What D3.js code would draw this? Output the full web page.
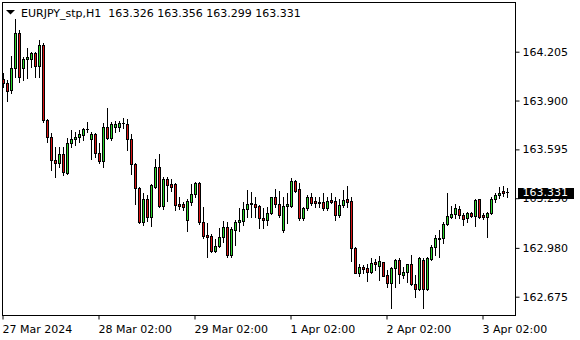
<!DOCTYPE html>
<html>
<head>
<meta charset="utf-8">
<script src="https://cdn.jsdelivr.net/npm/d3@7"></script>
<style>
  html, body { margin: 0; padding: 0; background: #fff; }
  text { font-family: "DejaVu Sans", sans-serif; font-size: 11px; fill: #000; }
</style>
</head>
<body>
<div id="display"></div>
<script>
let w = 580;
let h = 340;

// EURJPY_stp H1, 127 bars from 27 Mar 2024 02:00
const opens = [164.033,164.008,163.966,164.101,164.324,164.101,164.158,164.158,164.195,164.118,
  164.245,163.779,163.674,163.529,163.512,163.566,163.449,163.637,163.658,163.671,
  163.685,163.720,163.658,163.689,163.574,163.524,163.737,163.664,163.737,163.733,
  163.757,163.754,163.658,163.502,163.352,163.140,163.283,163.175,163.362,163.483,
  163.243,163.408,163.379,163.377,163.254,163.252,163.152,163.268,163.315,163.383,
  163.143,163.060,163.054,162.962,162.994,163.046,163.110,162.936,163.092,163.140,
  163.148,163.221,163.262,163.254,163.241,163.166,163.154,163.196,163.296,163.254,
  163.092,163.243,163.243,163.398,163.346,163.165,163.227,163.296,163.273,163.268,
  163.266,163.227,163.277,163.271,163.185,163.248,163.283,163.273,162.977,162.825,
  162.862,162.852,162.827,162.892,162.869,162.890,162.809,162.759,162.852,162.904,
  162.812,162.829,162.877,162.754,162.721,162.904,162.721,162.909,162.984,163.037,
  163.040,163.129,163.175,163.190,163.221,163.185,163.165,163.200,163.181,163.283,
  163.185,163.171,163.196,163.285,163.308,163.333,163.326];
const highs = [164.070,164.028,164.178,164.407,164.341,164.174,164.226,164.205,164.205,164.278,
  164.261,163.785,163.697,163.612,163.612,163.612,163.664,163.716,163.706,163.716,
  163.727,163.768,163.706,163.696,163.633,163.758,163.852,163.768,163.774,163.772,
  163.791,163.783,163.691,163.512,163.362,163.321,163.310,163.379,163.533,163.564,
  163.421,163.421,163.408,163.383,163.296,163.268,163.283,163.379,163.393,163.393,
  163.233,163.133,163.065,163.034,163.102,163.150,163.143,163.112,163.154,163.227,
  163.268,163.341,163.331,163.300,163.248,163.227,163.237,163.300,163.346,163.337,
  163.300,163.321,163.414,163.404,163.383,163.237,163.310,163.321,163.300,163.296,
  163.321,163.296,163.321,163.300,163.283,163.341,163.366,163.300,162.987,162.879,
  162.873,162.877,162.915,162.909,162.929,162.894,162.842,162.862,162.909,162.915,
  162.859,162.880,162.936,162.811,162.921,162.915,162.921,162.998,163.060,163.092,
  163.143,163.321,163.241,163.254,163.241,163.200,163.206,163.206,163.283,163.287,
  163.200,163.206,163.300,163.321,163.362,163.366,163.356];
const lows = [163.983,163.899,163.949,164.049,164.018,164.028,164.039,164.111,164.049,164.049,
  163.766,163.643,163.466,163.424,163.487,163.435,163.441,163.612,163.622,163.643,
  163.654,163.706,163.533,163.549,163.508,163.483,163.658,163.654,163.706,163.712,
  163.729,163.591,163.441,163.254,163.133,163.123,163.150,163.118,163.352,163.233,
  163.223,163.275,163.337,163.217,163.221,163.217,163.087,163.248,163.300,163.129,
  163.040,162.921,162.956,162.956,162.987,163.019,162.925,162.925,162.998,163.087,
  163.123,163.173,163.175,163.175,163.102,163.102,163.123,163.192,163.237,163.175,
  163.081,163.133,163.237,163.331,163.154,163.154,163.217,163.248,163.237,163.237,
  163.217,163.217,163.258,163.154,163.171,163.237,163.237,162.900,162.821,162.804,
  162.821,162.775,162.821,162.842,162.779,162.804,162.734,162.603,162.734,162.759,
  162.790,162.769,162.748,162.675,162.717,162.603,162.717,162.904,162.936,162.921,
  163.009,163.123,163.165,163.165,163.165,163.123,163.143,163.175,163.117,163.165,
  163.158,163.050,163.190,163.268,163.290,163.304,163.299];
const closes = [164.008,163.962,164.101,164.320,164.049,164.158,164.170,164.195,164.118,164.245,
  163.779,163.674,163.529,163.508,163.566,163.456,163.637,163.658,163.674,163.689,
  163.720,163.721,163.689,163.571,163.524,163.737,163.664,163.754,163.752,163.758,
  163.758,163.658,163.502,163.352,163.140,163.283,163.175,163.371,163.483,163.243,
  163.408,163.371,163.362,163.246,163.241,163.237,163.273,163.315,163.383,163.143,
  163.056,163.050,162.962,162.994,163.050,163.110,162.936,163.096,163.140,163.154,
  163.221,163.252,163.252,163.237,163.165,163.154,163.196,163.296,163.252,163.185,
  163.241,163.254,163.398,163.337,163.165,163.227,163.296,163.262,163.258,163.258,
  163.227,163.275,163.265,163.185,163.248,163.279,163.268,162.977,162.825,162.859,
  162.848,162.827,162.884,162.881,162.896,162.806,162.759,162.852,162.904,162.817,
  162.829,162.877,162.752,162.721,162.915,162.721,162.915,162.984,163.040,163.044,
  163.129,163.179,163.192,163.227,163.185,163.158,163.200,163.181,163.279,163.175,
  163.171,163.196,163.283,163.308,163.325,163.321,163.331];

const timeTickBars = [0, 24, 48, 72, 96, 120];
const timeTickLabels = ['27 Mar 2024', '28 Mar 02:00', '29 Mar 02:00', '1 Apr 02:00', '2 Apr 02:00', '3 Apr 02:00'];
const priceTicks = [164.205, 163.900, 163.595, 163.290, 162.980, 162.675];
const lastPrice = 163.331;
const title = 'EURJPY_stp,H1  163.326 163.356 163.299 163.331';

const bullColor = '#2bd62b';
const bearColor = '#d81414';

let viz = d3.select('#display')
            .append('svg')
                .attr('width', w)
                .attr('height', h)
                .style('background-color', 'white')
                .style('display', 'block');

let N = opens.length;
let xScale = d3.scaleBand().domain(d3.range(N)).range([1, 1 + 4 * N]);
let cx = (i) => xScale(i) + xScale.bandwidth() / 2 + 0.5;
let yScale = d3.scaleLinear().domain([162.675, 164.205]).range([296.7, 51.7]);

// frame
viz.append('rect')
    .attr('x', 2.5).attr('y', 2.5)
    .attr('width', 513).attr('height', 313)
    .attr('fill', 'none').attr('stroke', '#000');

// candles
let candles = viz.append('g').attr('class', 'candles');
d3.range(N).forEach((i) => {
    let o = opens[i], c = closes[i];
    let top = Math.round(yScale(Math.max(o, c))) + 0.5;
    let bot = Math.round(yScale(Math.min(o, c))) + 0.5;
    let g = candles.append('g');
    g.append('line')
        .attr('x1', cx(i)).attr('x2', cx(i))
        .attr('y1', Math.round(yScale(highs[i])))
        .attr('y2', Math.round(yScale(lows[i])) + 1)
        .attr('stroke', '#000');
    if (bot - top < 1) {
        g.append('line')
            .attr('x1', cx(i) - 1.5).attr('x2', cx(i) + 1.5)
            .attr('y1', top).attr('y2', top)
            .attr('stroke', '#000');
    } else {
        g.append('rect')
            .attr('x', cx(i) - 1).attr('y', top)
            .attr('width', 2).attr('height', bot - top)
            .attr('fill', c >= o ? bullColor : bearColor)
            .attr('stroke', '#000');
    }
});

// price axis
let yAxis = d3.axisRight(yScale)
    .tickValues(priceTicks)
    .tickSize(4)
    .tickFormat(d3.format('.3f'));
viz.append('g')
    .attr('class', 'yaxis')
    .attr('transform', 'translate(' + 515.5 + ',' + 0 + ')')
    .call(yAxis)
    .call((g) => g.select('.domain').remove())
    .call((g) => g.selectAll('text').attr('x', 7).style('font-size', '11px').style('font-family', '"DejaVu Sans", sans-serif'));

// time axis
let xAxis = d3.axisBottom(xScale)
    .tickValues(timeTickBars)
    .tickSize(4)
    .tickFormat((d) => timeTickLabels[timeTickBars.indexOf(d)]);
viz.append('g')
    .attr('class', 'xaxis')
    .attr('transform', 'translate(' + 0 + ',' + 315.5 + ')')
    .call(xAxis)
    .call((g) => g.select('.domain').remove())
    .call((g) => g.selectAll('text')
        .attr('text-anchor', 'start').attr('x', -0.5).attr('y', 10)
        .style('font-size', '11px').style('font-family', '"DejaVu Sans", sans-serif'));

// last price marker
let ly = yScale(lastPrice);
viz.append('rect')
    .attr('x', 518).attr('y', Math.round(ly) - 4)
    .attr('width', 56).attr('height', 11)
    .attr('fill', '#000');
viz.append('text')
    .attr('x', 522.5).attr('y', ly + 0.5).attr('dy', '0.32em')
    .style('fill', '#fff')
    .text(d3.format('.3f')(lastPrice));

// title
viz.append('path')
    .attr('d', 'M6,10 L15,10 L10.5,14.5 Z')
    .attr('fill', '#000');
viz.append('text')
    .attr('x', 21).attr('y', 16.5)
    .attr('xml:space', 'preserve')
    .style('white-space', 'pre')
    .text(title);
</script>
</body>
</html>
